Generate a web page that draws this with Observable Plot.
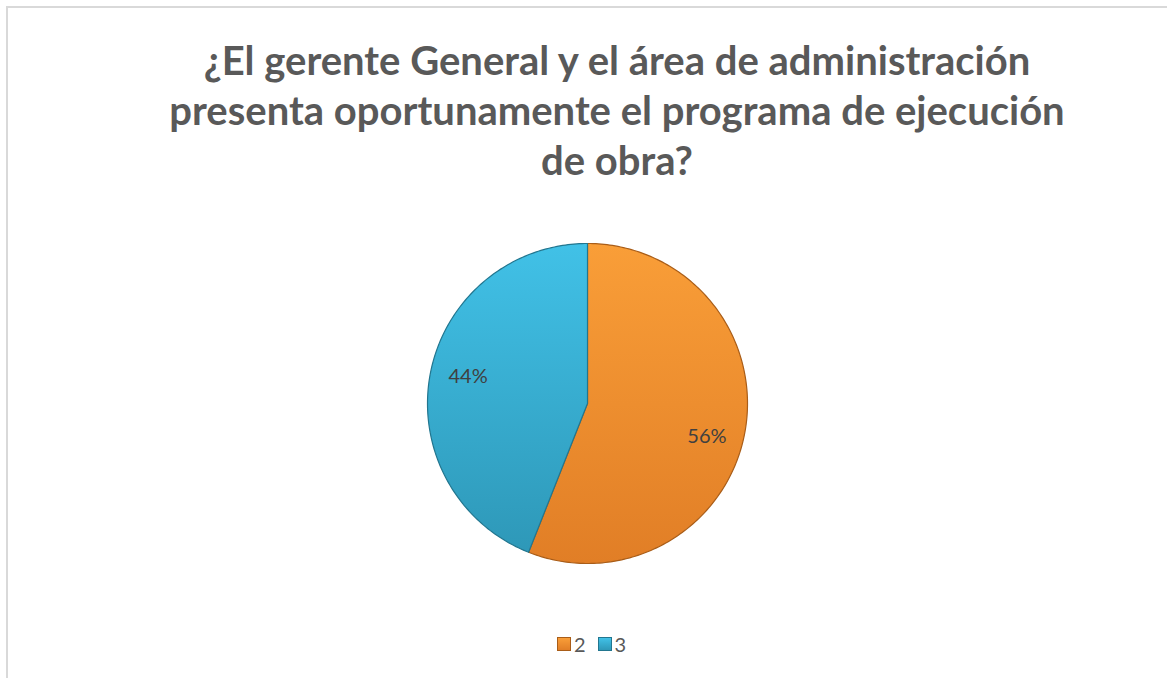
<!DOCTYPE html>
<html><head><meta charset="utf-8">
<script src="https://cdn.jsdelivr.net/npm/d3@7"></script>
<script src="https://cdn.jsdelivr.net/npm/@observablehq/plot@0.6"></script>
<style>
body{margin:0;background:#fff;width:1167px;height:678px;overflow:hidden;position:relative;font-family:Lato,"Open Sans",sans-serif}
#frame{position:absolute;left:6px;top:6px;right:-10px;bottom:-10px;border-top:2px solid #d9d9d9;border-left:2px solid #d9d9d9}
#title{position:absolute;left:0;width:1234px;top:35px;text-align:center;font-weight:bold;font-size:40px;line-height:50px;color:#595959}
#chart{position:absolute;left:0;top:223px}
#legend{position:absolute;top:632px;left:0;width:1167px;display:flex;justify-content:center;gap:12px;font-size:20px;color:#595959;padding-left:16px;box-sizing:border-box}
#legend span{display:inline-flex;align-items:center;gap:3px}
#legend i{display:inline-block;width:12px;height:12px}
</style></head>
<body>
<div id="frame"></div>
<div id="title">¿El gerente General y el área de administración<br>presenta oportunamente el programa de ejecución<br>de obra?</div>
<div id="chart"></div>
<div id="legend"></div>
<script>
const categories = ["2", "3"];
const values = [56, 44];
const labels = ["56%", "44%"];
const fillTop = ["#f99e38", "#41c1e7"];
const fillBottom = ["#e17e26", "#2e98b8"];
const edge = ["#a95d18", "#22768f"];

const W = 1167, H = 360, cx = 587, cy = 180, R = 160;
const pie = d3.pie().sort(null).value(d => d.value)(categories.map((c, i) => ({category: c, value: values[i], label: labels[i]})));

const pts = [];
pie.forEach(p => {
  const c = p.data.category;
  pts.push({category: c, x: 0, y: 0});
  const n = Math.max(2, Math.ceil((p.endAngle - p.startAngle) * 180 / Math.PI));
  for (let k = 0; k <= n; k++) {
    const a = p.startAngle + (p.endAngle - p.startAngle) * k / n;
    pts.push({category: c, x: Math.sin(a), y: Math.cos(a)});
  }
  pts.push({category: c, x: 0, y: 0});
});
const labelPts = pie.map(p => {
  const a = (p.startAngle + p.endAngle) / 2;
  return {label: p.data.label, x: 0.76 * Math.sin(a), y: 0.76 * Math.cos(a)};
});
const labelDy = [10, -4];

const svg = Plot.plot({
  width: W, height: H,
  margin: 0,
  x: {domain: [-cx / R, (W - cx) / R], axis: null},
  y: {domain: [-(H - cy) / R, cy / R], axis: null},
  marks: [
    ...categories.map((c, i) => Plot.line(pts.filter(d => d.category === c), {
      x: "x", y: "y", fill: `url(#g${i})`, stroke: edge[i], strokeWidth: 1.2, strokeLinejoin: "round"
    })),
    ...labelPts.map((d, i) => Plot.text([d], {x: "x", y: "y", text: "label", dy: labelDy[i], fontSize: 20, fill: "#404040", fontFamily: "Lato, 'Open Sans', sans-serif"}))
  ]
});
const ns = "http://www.w3.org/2000/svg";
const defs = document.createElementNS(ns, "defs");
categories.forEach((c, i) => {
  const g = document.createElementNS(ns, "linearGradient");
  g.setAttribute("id", "g" + i);
  g.setAttribute("x1", "0"); g.setAttribute("y1", "0"); g.setAttribute("x2", "0"); g.setAttribute("y2", "1");
  [[0, fillTop[i]], [1, fillBottom[i]]].forEach(([o, col]) => {
    const s = document.createElementNS(ns, "stop");
    s.setAttribute("offset", o); s.setAttribute("stop-color", col);
    g.appendChild(s);
  });
  defs.appendChild(g);
});
svg.insertBefore(defs, svg.firstChild);
document.getElementById("chart").appendChild(svg);

const leg = document.getElementById("legend");
categories.forEach((c, i) => {
  const s = document.createElement("span");
  s.innerHTML = `<i style="background:linear-gradient(${fillTop[i]},${fillBottom[i]});border:1px solid ${edge[i]}"></i>${c}`;
  leg.appendChild(s);
});
</script>
</body></html>
